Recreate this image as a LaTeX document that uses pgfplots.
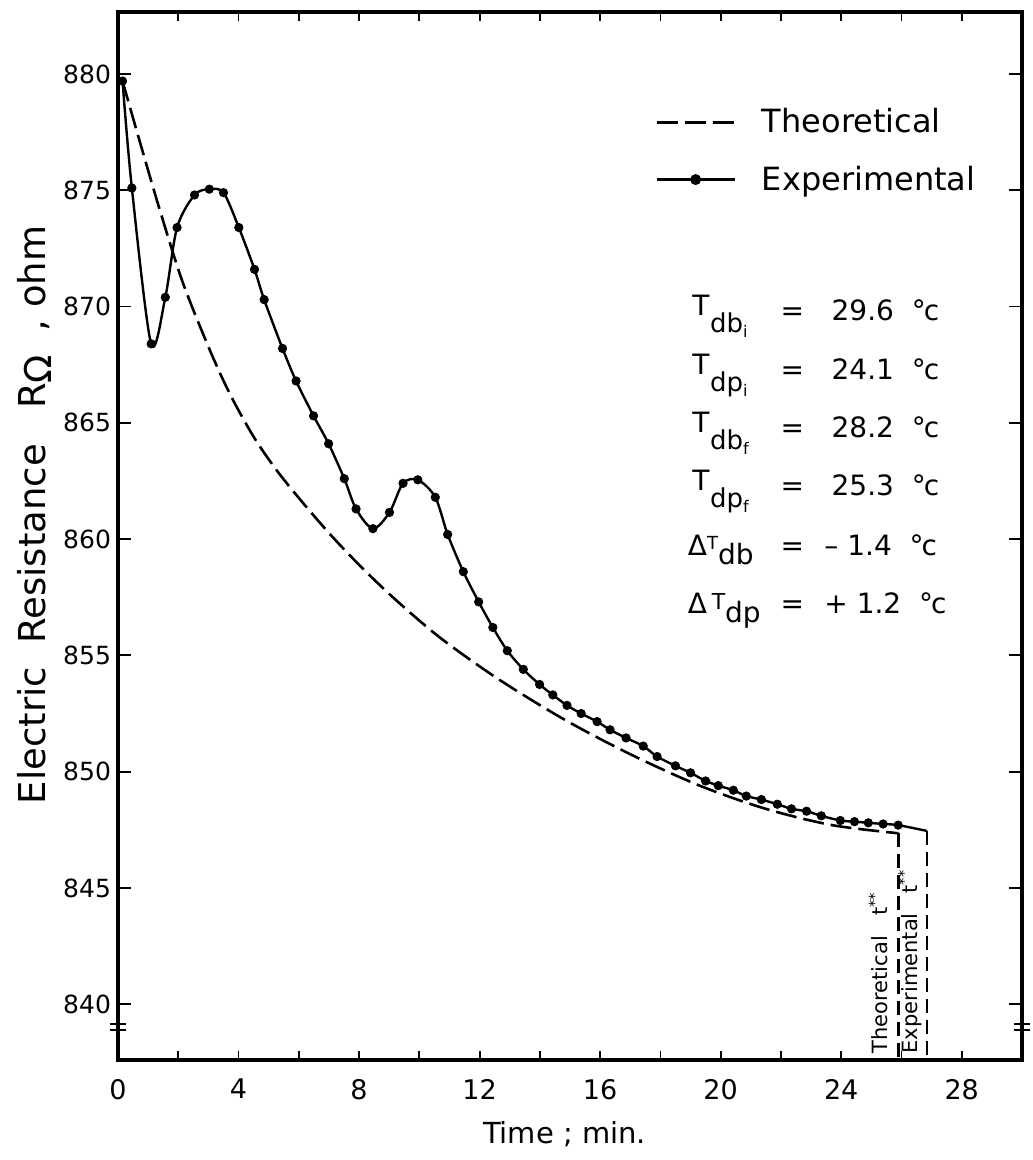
\documentclass[border=0pt]{standalone}
\usepackage{fontspec}
\setmainfont{DejaVu Sans}
\usepackage{pgfplots}
\pgfplotsset{compat=1.18}
\newcommand{\Tv}[2]{\raisebox{2.5pt}{T}\kern0.3pt\raisebox{-6pt}{\fontsize{13}{13}\selectfont #1\raisebox{-2.5pt}{\fontsize{8}{8}\selectfont #2}}}
\newcommand{\degc}{\ \ °\kern-1pt c}
\begin{document}
\begin{tikzpicture}
\begin{axis}[
  width=452pt, height=524pt, scale only axis,
  xmin=0, xmax=30, ymin=837.6, ymax=882.67,
  clip=false,
  xtick={0,4,...,28}, minor xtick={2,6,...,26},
  ytick={840,845,...,880},
  tick align=inside,
  xtick style={/pgfplots/major tick length=4.5pt,/pgfplots/minor tick length=4.5pt, line width=0.9pt, black},
  ytick style={/pgfplots/major tick length=6.5pt, line width=0.9pt, black},
  axis line style={line width=2.2pt},
  /pgf/number format/assume math mode=true,
  /pgf/number format/set thousands separator={},
  xticklabel style={font=\fontsize{13.5}{13.5}\selectfont, yshift=-6pt},
  yticklabel style={font=\fontsize{12.5}{12.5}\selectfont},
  xlabel={Time ; min.},
  ylabel={Electric\ \ Resistance\ \ \ R\raisebox{-0.3ex}{Ω}\ \ ,\ ohm},
  xlabel style={font=\fontsize{14.5}{14.5}\selectfont, at={(axis description cs:0.494,-0.071)}, anchor=center},
  ylabel style={font=\fontsize{18.5}{18.5}\selectfont, at={(axis description cs:-0.092,0.52)}, anchor=center},
  legend style={draw=none, fill=none, at={(axis description cs:0.594,0.912)}, anchor=north west,
    font=\fontsize{16}{16}\selectfont, row sep=11pt, cells={anchor=west}, inner sep=0pt,
    /tikz/every odd column/.style={column sep=11pt}},
  legend image code/.code={\draw[mark repeat=2,mark phase=2,#1] plot coordinates {(0pt,0pt) (19.5pt,0pt) (39pt,0pt)};},
]
% Theoretical
\addplot[black, line width=1.3pt, dash pattern=on 10.5pt off 3.5pt, smooth, tension=0.5] coordinates {
(0.15,879.7) (0.7,877.2) (1.4,874.1) (2.16,871.0) (3.09,868.0) (3.77,866.1) (4.55,864.3)
(5.33,862.85) (6.24,861.4) (7.15,860.05) (8.15,858.7) (9.25,857.35) (10.7,855.75) (12.6,854.0)
(14.8,852.25) (17.0,850.75) (19.3,849.4) (21.5,848.4) (23.7,847.7) (25.9,847.35)};
\addlegendentry{Theoretical}
\addlegendimage{black, line width=1.2pt, mark=*, mark size=2.1pt}
\addlegendentry{Experimental}
% Experimental line
\addplot[black, line width=1.2pt, smooth, tension=0.5, forget plot] coordinates {
(0.15,879.7) (0.46,875.1) (1.1,868.4) (1.57,870.4) (1.96,873.4) (2.54,874.8) (3.03,875.05)
(3.5,874.9) (4.01,873.4) (4.53,871.6) (4.85,870.3) (5.46,868.2) (5.91,866.8) (6.49,865.3)
(6.99,864.1) (7.51,862.6) (7.9,861.3) (8.46,860.45) (9.01,861.15) (9.46,862.4) (9.95,862.55)
(10.53,861.8) (10.94,860.2) (11.46,858.6) (11.97,857.3) (12.44,856.2) (12.92,855.2)
(13.45,854.4) (13.99,853.75) (14.43,853.3) (14.9,852.85) (15.37,852.5) (15.9,852.15)
(16.33,851.8) (16.86,851.45) (17.43,851.1) (17.89,850.65) (18.5,850.25) (19.0,849.95)
(19.5,849.6) (19.92,849.4) (20.42,849.2) (20.85,848.95) (21.35,848.8) (21.88,848.6)
(22.35,848.4) (22.85,848.3) (23.34,848.1) (23.97,847.9) (24.44,847.85) (24.9,847.8)
(25.39,847.75) (25.89,847.7) (26.85,847.45)};
% Experimental points
\addplot[only marks, black, mark=*, mark size=2.1pt, forget plot] coordinates {
(0.15,879.7) (0.46,875.1) (1.1,868.4) (1.57,870.4) (1.96,873.4) (2.54,874.8) (3.03,875.05)
(3.5,874.9) (4.01,873.4) (4.53,871.6) (4.85,870.3) (5.46,868.2) (5.91,866.8) (6.49,865.3)
(6.99,864.1) (7.51,862.6) (7.9,861.3) (8.46,860.45) (9.01,861.15) (9.46,862.4) (9.95,862.55)
(10.53,861.8) (10.94,860.2) (11.46,858.6) (11.97,857.3) (12.44,856.2) (12.92,855.2)
(13.45,854.4) (13.99,853.75) (14.43,853.3) (14.9,852.85) (15.37,852.5) (15.9,852.15)
(16.33,851.8) (16.86,851.45) (17.43,851.1) (17.89,850.65) (18.5,850.25) (19.0,849.95)
(19.5,849.6) (19.92,849.4) (20.42,849.2) (20.85,848.95) (21.35,848.8) (21.88,848.6)
(22.35,848.4) (22.85,848.3) (23.34,848.1) (23.97,847.9) (24.44,847.85) (24.9,847.8)
(25.39,847.75) (25.89,847.7)};
% t** markers
\addplot[black, line width=1.1pt, dash pattern=on 7pt off 3.5pt, forget plot] coordinates {(25.9,847.35) (25.9,837.6)};
\addplot[black, line width=1.1pt, dash pattern=on 7pt off 3.5pt, forget plot] coordinates {(26.85,847.45) (26.85,837.6)};
\node[rotate=90, anchor=west, inner sep=0pt, font=\fontsize{10.5}{10.5}\selectfont] at (axis description cs:0.841,0.006) {Theoretical\ \ \ t\textsuperscript{**}};
\node[rotate=90, anchor=west, inner sep=0pt, font=\fontsize{10.5}{10.5}\selectfont] at (axis description cs:0.876,0.006) {Experimental\ \ \ t\textsuperscript{**}};
% axis break marks
\draw[line width=1pt] ([xshift=-4pt]axis cs:0,839.13) -- ([xshift=4pt]axis cs:0,839.13);
\draw[line width=1pt] ([xshift=-4pt]axis cs:0,838.87) -- ([xshift=4pt]axis cs:0,838.87);
\draw[line width=1pt] ([xshift=-4pt]axis cs:30,839.13) -- ([xshift=4pt]axis cs:30,839.13);
\draw[line width=1pt] ([xshift=-4pt]axis cs:30,838.87) -- ([xshift=4pt]axis cs:30,838.87);
% annotations
\node[anchor=base west, inner sep=0pt, font=\fontsize{14}{14}\selectfont] at (axis description cs:0.635,0.706) {\Tv{db}{i}};
\node[anchor=base west, inner sep=0pt, font=\fontsize{14}{14}\selectfont] at (axis description cs:0.635,0.649) {\Tv{dp}{i}};
\node[anchor=base west, inner sep=0pt, font=\fontsize{14}{14}\selectfont] at (axis description cs:0.635,0.594) {\Tv{db}{f}};
\node[anchor=base west, inner sep=0pt, font=\fontsize{14}{14}\selectfont] at (axis description cs:0.635,0.539) {\Tv{dp}{f}};
\node[anchor=base west, inner sep=0pt, font=\fontsize{14}{14}\selectfont] at (axis description cs:0.630,0.481) {Δ\raisebox{3pt}{\fontsize{9}{9}\selectfont T}\raisebox{-4.5pt}{\fontsize{14}{14}\selectfont db}};
\node[anchor=base west, inner sep=0pt, font=\fontsize{14}{14}\selectfont] at (axis description cs:0.630,0.426) {Δ\,\raisebox{2pt}{\fontsize{11}{11}\selectfont T}\raisebox{-4.5pt}{\fontsize{14}{14}\selectfont dp}};
\node[anchor=base, inner sep=0pt, font=\fontsize{14}{14}\selectfont] at (axis description cs:0.746,0.706) {=};
\node[anchor=base, inner sep=0pt, font=\fontsize{14}{14}\selectfont] at (axis description cs:0.746,0.649) {=};
\node[anchor=base, inner sep=0pt, font=\fontsize{14}{14}\selectfont] at (axis description cs:0.746,0.594) {=};
\node[anchor=base, inner sep=0pt, font=\fontsize{14}{14}\selectfont] at (axis description cs:0.746,0.539) {=};
\node[anchor=base, inner sep=0pt, font=\fontsize{14}{14}\selectfont] at (axis description cs:0.746,0.481) {=};
\node[anchor=base, inner sep=0pt, font=\fontsize{14}{14}\selectfont] at (axis description cs:0.746,0.426) {=};
\node[anchor=base west, inner sep=0pt, font=\fontsize{14}{14}\selectfont] at (axis description cs:0.789,0.706) {29.6\degc};
\node[anchor=base west, inner sep=0pt, font=\fontsize{14}{14}\selectfont] at (axis description cs:0.789,0.649) {24.1\degc};
\node[anchor=base west, inner sep=0pt, font=\fontsize{14}{14}\selectfont] at (axis description cs:0.789,0.594) {28.2\degc};
\node[anchor=base west, inner sep=0pt, font=\fontsize{14}{14}\selectfont] at (axis description cs:0.789,0.539) {25.3\degc};
\node[anchor=base west, inner sep=0pt, font=\fontsize{14}{14}\selectfont] at (axis description cs:0.781,0.481) {–\ 1.4\degc};
\node[anchor=base west, inner sep=0pt, font=\fontsize{14}{14}\selectfont] at (axis description cs:0.781,0.426) {+\ 1.2\degc};
\end{axis}
\path ([xshift=-59pt,yshift=-50pt]current axis.south west) rectangle ++(516pt,580pt);
\end{tikzpicture}
\end{document}
